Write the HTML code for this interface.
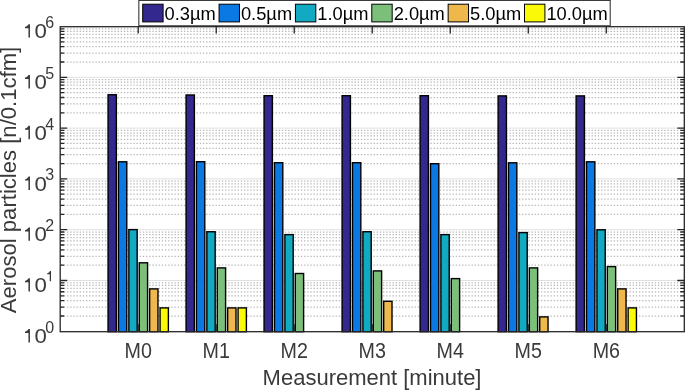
<!DOCTYPE html><html><head><meta charset="utf-8"><style>html,body{margin:0;padding:0;background:#fff;}svg{display:block;will-change:transform;}text{font-family:"Liberation Sans",sans-serif;}</style></head><body>
<svg width="685" height="390" viewBox="0 0 685 390">
<rect x="0" y="0" width="685" height="390" fill="#fff"/>
<path d="M60.20 316.01H684.30 M60.20 307.06H684.30 M60.20 300.72H684.30 M60.20 295.79H684.30 M60.20 291.77H684.30 M60.20 288.37H684.30 M60.20 285.42H684.30 M60.20 282.82H684.30 M60.20 265.21H684.30 M60.20 256.26H684.30 M60.20 249.92H684.30 M60.20 244.99H684.30 M60.20 240.97H684.30 M60.20 237.57H684.30 M60.20 234.62H684.30 M60.20 232.02H684.30 M60.20 214.41H684.30 M60.20 205.46H684.30 M60.20 199.12H684.30 M60.20 194.19H684.30 M60.20 190.17H684.30 M60.20 186.77H684.30 M60.20 183.82H684.30 M60.20 181.22H684.30 M60.20 163.61H684.30 M60.20 154.66H684.30 M60.20 148.32H684.30 M60.20 143.39H684.30 M60.20 139.37H684.30 M60.20 135.97H684.30 M60.20 133.02H684.30 M60.20 130.42H684.30 M60.20 112.81H684.30 M60.20 103.86H684.30 M60.20 97.52H684.30 M60.20 92.59H684.30 M60.20 88.57H684.30 M60.20 85.17H684.30 M60.20 82.22H684.30 M60.20 79.62H684.30 M60.20 62.01H684.30 M60.20 53.06H684.30 M60.20 46.72H684.30 M60.20 41.79H684.30 M60.20 37.77H684.30 M60.20 34.37H684.30 M60.20 31.42H684.30 M60.20 28.82H684.30" stroke="#b8b8b8" stroke-width="1.25" stroke-dasharray="1.35 1.81" stroke-dashoffset="-0.5" fill="none"/>
<path d="M60.20 280.50H684.30 M60.20 229.70H684.30 M60.20 178.90H684.30 M60.20 128.10H684.30 M60.20 77.30H684.30" stroke="#e0e0e0" stroke-width="1" fill="none"/>
<rect x="108.05" y="94.75" width="8.32" height="236.95" fill="#32288e" stroke="#000" stroke-width="1.4"/>
<rect x="118.45" y="161.80" width="8.32" height="169.90" fill="#0b79e4" stroke="#000" stroke-width="1.4"/>
<rect x="128.85" y="229.60" width="8.32" height="102.10" fill="#12a9c3" stroke="#000" stroke-width="1.4"/>
<rect x="139.25" y="262.80" width="8.32" height="68.90" fill="#7cbf7b" stroke="#000" stroke-width="1.4"/>
<rect x="149.65" y="288.90" width="8.32" height="42.80" fill="#eeb84c" stroke="#000" stroke-width="1.4"/>
<rect x="160.06" y="307.90" width="8.32" height="23.80" fill="#f9f908" stroke="#000" stroke-width="1.4"/>
<rect x="186.06" y="95.00" width="8.32" height="236.70" fill="#32288e" stroke="#000" stroke-width="1.4"/>
<rect x="196.46" y="161.70" width="8.32" height="170.00" fill="#0b79e4" stroke="#000" stroke-width="1.4"/>
<rect x="206.86" y="231.75" width="8.32" height="99.95" fill="#12a9c3" stroke="#000" stroke-width="1.4"/>
<rect x="217.27" y="267.90" width="8.32" height="63.80" fill="#7cbf7b" stroke="#000" stroke-width="1.4"/>
<rect x="227.67" y="307.90" width="8.32" height="23.80" fill="#eeb84c" stroke="#000" stroke-width="1.4"/>
<rect x="238.07" y="307.90" width="8.32" height="23.80" fill="#f9f908" stroke="#000" stroke-width="1.4"/>
<rect x="264.07" y="95.70" width="8.32" height="236.00" fill="#32288e" stroke="#000" stroke-width="1.4"/>
<rect x="274.47" y="162.70" width="8.32" height="169.00" fill="#0b79e4" stroke="#000" stroke-width="1.4"/>
<rect x="284.88" y="234.60" width="8.32" height="97.10" fill="#12a9c3" stroke="#000" stroke-width="1.4"/>
<rect x="295.28" y="273.50" width="8.32" height="58.20" fill="#7cbf7b" stroke="#000" stroke-width="1.4"/>
<rect x="342.09" y="95.70" width="8.32" height="236.00" fill="#32288e" stroke="#000" stroke-width="1.4"/>
<rect x="352.49" y="162.70" width="8.32" height="169.00" fill="#0b79e4" stroke="#000" stroke-width="1.4"/>
<rect x="362.89" y="231.75" width="8.32" height="99.95" fill="#12a9c3" stroke="#000" stroke-width="1.4"/>
<rect x="373.29" y="270.90" width="8.32" height="60.80" fill="#7cbf7b" stroke="#000" stroke-width="1.4"/>
<rect x="383.69" y="301.30" width="8.32" height="30.40" fill="#eeb84c" stroke="#000" stroke-width="1.4"/>
<rect x="420.10" y="95.70" width="8.32" height="236.00" fill="#32288e" stroke="#000" stroke-width="1.4"/>
<rect x="430.50" y="163.70" width="8.32" height="168.00" fill="#0b79e4" stroke="#000" stroke-width="1.4"/>
<rect x="440.90" y="234.60" width="8.32" height="97.10" fill="#12a9c3" stroke="#000" stroke-width="1.4"/>
<rect x="451.30" y="278.60" width="8.32" height="53.10" fill="#7cbf7b" stroke="#000" stroke-width="1.4"/>
<rect x="498.11" y="95.90" width="8.32" height="235.80" fill="#32288e" stroke="#000" stroke-width="1.4"/>
<rect x="508.51" y="162.80" width="8.32" height="168.90" fill="#0b79e4" stroke="#000" stroke-width="1.4"/>
<rect x="518.91" y="232.60" width="8.32" height="99.10" fill="#12a9c3" stroke="#000" stroke-width="1.4"/>
<rect x="529.32" y="267.90" width="8.32" height="63.80" fill="#7cbf7b" stroke="#000" stroke-width="1.4"/>
<rect x="539.72" y="316.90" width="8.32" height="14.80" fill="#eeb84c" stroke="#000" stroke-width="1.4"/>
<rect x="576.12" y="95.90" width="8.32" height="235.80" fill="#32288e" stroke="#000" stroke-width="1.4"/>
<rect x="586.52" y="161.80" width="8.32" height="169.90" fill="#0b79e4" stroke="#000" stroke-width="1.4"/>
<rect x="596.93" y="229.80" width="8.32" height="101.90" fill="#12a9c3" stroke="#000" stroke-width="1.4"/>
<rect x="607.33" y="266.60" width="8.32" height="65.10" fill="#7cbf7b" stroke="#000" stroke-width="1.4"/>
<rect x="617.73" y="288.90" width="8.32" height="42.80" fill="#eeb84c" stroke="#000" stroke-width="1.4"/>
<rect x="628.13" y="307.90" width="8.32" height="23.80" fill="#f9f908" stroke="#000" stroke-width="1.4"/>
<path d="M60.20 316.01h4.0M684.30 316.01h-4.0M60.20 307.06h4.0M684.30 307.06h-4.0M60.20 300.72h4.0M684.30 300.72h-4.0M60.20 295.79h4.0M684.30 295.79h-4.0M60.20 291.77h4.0M684.30 291.77h-4.0M60.20 288.37h4.0M684.30 288.37h-4.0M60.20 285.42h4.0M684.30 285.42h-4.0M60.20 282.82h4.0M684.30 282.82h-4.0M60.20 280.50h7.0M684.30 280.50h-7.0M60.20 265.21h4.0M684.30 265.21h-4.0M60.20 256.26h4.0M684.30 256.26h-4.0M60.20 249.92h4.0M684.30 249.92h-4.0M60.20 244.99h4.0M684.30 244.99h-4.0M60.20 240.97h4.0M684.30 240.97h-4.0M60.20 237.57h4.0M684.30 237.57h-4.0M60.20 234.62h4.0M684.30 234.62h-4.0M60.20 232.02h4.0M684.30 232.02h-4.0M60.20 229.70h7.0M684.30 229.70h-7.0M60.20 214.41h4.0M684.30 214.41h-4.0M60.20 205.46h4.0M684.30 205.46h-4.0M60.20 199.12h4.0M684.30 199.12h-4.0M60.20 194.19h4.0M684.30 194.19h-4.0M60.20 190.17h4.0M684.30 190.17h-4.0M60.20 186.77h4.0M684.30 186.77h-4.0M60.20 183.82h4.0M684.30 183.82h-4.0M60.20 181.22h4.0M684.30 181.22h-4.0M60.20 178.90h7.0M684.30 178.90h-7.0M60.20 163.61h4.0M684.30 163.61h-4.0M60.20 154.66h4.0M684.30 154.66h-4.0M60.20 148.32h4.0M684.30 148.32h-4.0M60.20 143.39h4.0M684.30 143.39h-4.0M60.20 139.37h4.0M684.30 139.37h-4.0M60.20 135.97h4.0M684.30 135.97h-4.0M60.20 133.02h4.0M684.30 133.02h-4.0M60.20 130.42h4.0M684.30 130.42h-4.0M60.20 128.10h7.0M684.30 128.10h-7.0M60.20 112.81h4.0M684.30 112.81h-4.0M60.20 103.86h4.0M684.30 103.86h-4.0M60.20 97.52h4.0M684.30 97.52h-4.0M60.20 92.59h4.0M684.30 92.59h-4.0M60.20 88.57h4.0M684.30 88.57h-4.0M60.20 85.17h4.0M684.30 85.17h-4.0M60.20 82.22h4.0M684.30 82.22h-4.0M60.20 79.62h4.0M684.30 79.62h-4.0M60.20 77.30h7.0M684.30 77.30h-7.0M60.20 62.01h4.0M684.30 62.01h-4.0M60.20 53.06h4.0M684.30 53.06h-4.0M60.20 46.72h4.0M684.30 46.72h-4.0M60.20 41.79h4.0M684.30 41.79h-4.0M60.20 37.77h4.0M684.30 37.77h-4.0M60.20 34.37h4.0M684.30 34.37h-4.0M60.20 31.42h4.0M684.30 31.42h-4.0M60.20 28.82h4.0M684.30 28.82h-4.0M138.21 331.30v-7.0M138.21 26.50v7.0M216.22 331.30v-7.0M216.22 26.50v7.0M294.24 331.30v-7.0M294.24 26.50v7.0M372.25 331.30v-7.0M372.25 26.50v7.0M450.26 331.30v-7.0M450.26 26.50v7.0M528.27 331.30v-7.0M528.27 26.50v7.0M606.29 331.30v-7.0M606.29 26.50v7.0" stroke="#262626" stroke-width="1.3" fill="none"/>
<rect x="60.20" y="26.70" width="624.10" height="305.00" fill="none" stroke="#262626" stroke-width="1.3"/>
<text x="0" y="0" transform="translate(46.8 342.90) scale(1.11 1)" font-size="20" fill="#3a3a3a" text-anchor="end">0</text>
<path d="M29.95 329.00 L29.95 342.40 L28.45 342.40 L28.45 333.00 L25.00 333.00 L25.00 331.80 L26.60 331.10 L27.90 330.00 L28.50 329.00Z" fill="#3a3a3a"/>
<text x="54.2" y="332.80" font-size="16" fill="#3a3a3a" text-anchor="end">0</text>
<text x="0" y="0" transform="translate(46.8 292.10) scale(1.11 1)" font-size="20" fill="#3a3a3a" text-anchor="end">0</text>
<path d="M29.95 278.20 L29.95 291.60 L28.45 291.60 L28.45 282.20 L25.00 282.20 L25.00 281.00 L26.60 280.30 L27.90 279.20 L28.50 278.20Z" fill="#3a3a3a"/>
<path d="M51.00 271.12 L51.00 281.30 L49.75 281.30 L49.75 274.16 L47.24 274.16 L47.24 273.24 L48.45 272.71 L49.44 271.88 L49.90 271.12Z" fill="#3a3a3a"/>
<text x="0" y="0" transform="translate(46.8 241.30) scale(1.11 1)" font-size="20" fill="#3a3a3a" text-anchor="end">0</text>
<path d="M29.95 227.40 L29.95 240.80 L28.45 240.80 L28.45 231.40 L25.00 231.40 L25.00 230.20 L26.60 229.50 L27.90 228.40 L28.50 227.40Z" fill="#3a3a3a"/>
<text x="54.2" y="231.20" font-size="16" fill="#3a3a3a" text-anchor="end">2</text>
<text x="0" y="0" transform="translate(46.8 190.50) scale(1.11 1)" font-size="20" fill="#3a3a3a" text-anchor="end">0</text>
<path d="M29.95 176.60 L29.95 190.00 L28.45 190.00 L28.45 180.60 L25.00 180.60 L25.00 179.40 L26.60 178.70 L27.90 177.60 L28.50 176.60Z" fill="#3a3a3a"/>
<text x="54.2" y="180.40" font-size="16" fill="#3a3a3a" text-anchor="end">3</text>
<text x="0" y="0" transform="translate(46.8 139.70) scale(1.11 1)" font-size="20" fill="#3a3a3a" text-anchor="end">0</text>
<path d="M29.95 125.80 L29.95 139.20 L28.45 139.20 L28.45 129.80 L25.00 129.80 L25.00 128.60 L26.60 127.90 L27.90 126.80 L28.50 125.80Z" fill="#3a3a3a"/>
<text x="54.2" y="129.60" font-size="16" fill="#3a3a3a" text-anchor="end">4</text>
<text x="0" y="0" transform="translate(46.8 88.90) scale(1.11 1)" font-size="20" fill="#3a3a3a" text-anchor="end">0</text>
<path d="M29.95 75.00 L29.95 88.40 L28.45 88.40 L28.45 79.00 L25.00 79.00 L25.00 77.80 L26.60 77.10 L27.90 76.00 L28.50 75.00Z" fill="#3a3a3a"/>
<text x="54.2" y="78.80" font-size="16" fill="#3a3a3a" text-anchor="end">5</text>
<text x="0" y="0" transform="translate(46.8 38.10) scale(1.11 1)" font-size="20" fill="#3a3a3a" text-anchor="end">0</text>
<path d="M29.95 24.20 L29.95 37.60 L28.45 37.60 L28.45 28.20 L25.00 28.20 L25.00 27.00 L26.60 26.30 L27.90 25.20 L28.50 24.20Z" fill="#3a3a3a"/>
<text x="54.2" y="28.00" font-size="16" fill="#3a3a3a" text-anchor="end">6</text>
<text transform="translate(138.21 357.5) scale(0.915 1)" x="0" y="0" font-size="21.5" fill="#3a3a3a" text-anchor="middle">M0</text>
<text transform="translate(216.22 357.5) scale(0.915 1)" x="0" y="0" font-size="21.5" fill="#3a3a3a" text-anchor="middle">M1</text>
<text transform="translate(294.24 357.5) scale(0.915 1)" x="0" y="0" font-size="21.5" fill="#3a3a3a" text-anchor="middle">M2</text>
<text transform="translate(372.25 357.5) scale(0.915 1)" x="0" y="0" font-size="21.5" fill="#3a3a3a" text-anchor="middle">M3</text>
<text transform="translate(450.26 357.5) scale(0.915 1)" x="0" y="0" font-size="21.5" fill="#3a3a3a" text-anchor="middle">M4</text>
<text transform="translate(528.27 357.5) scale(0.915 1)" x="0" y="0" font-size="21.5" fill="#3a3a3a" text-anchor="middle">M5</text>
<text transform="translate(606.29 357.5) scale(0.915 1)" x="0" y="0" font-size="21.5" fill="#3a3a3a" text-anchor="middle">M6</text>
<text x="372.05" y="385.2" font-size="22" fill="#3a3a3a" text-anchor="middle">Measurement [minute]</text>
<text transform="translate(16.4 180.0) rotate(-90)" x="0" y="0" font-size="22.1" fill="#3a3a3a" text-anchor="middle">Aerosol particles [n/0.1cfm]</text>
<rect x="138.85" y="0.4" width="471.35" height="25.40" fill="#fff" stroke="#262626" stroke-width="1"/>
<rect x="142.70" y="4.2" width="20.4" height="17.7" fill="#32288e" stroke="#000" stroke-width="1"/>
<text x="164.60" y="20.3" font-size="18.3" fill="#000">0.3µm</text>
<rect x="219.06" y="4.2" width="20.4" height="17.7" fill="#0b79e4" stroke="#000" stroke-width="1"/>
<text x="240.96" y="20.3" font-size="18.3" fill="#000">0.5µm</text>
<rect x="295.42" y="4.2" width="20.4" height="17.7" fill="#12a9c3" stroke="#000" stroke-width="1"/>
<text x="317.32" y="20.3" font-size="18.3" fill="#000">1.0µm</text>
<rect x="371.78" y="4.2" width="20.4" height="17.7" fill="#7cbf7b" stroke="#000" stroke-width="1"/>
<text x="393.68" y="20.3" font-size="18.3" fill="#000">2.0µm</text>
<rect x="448.14" y="4.2" width="20.4" height="17.7" fill="#eeb84c" stroke="#000" stroke-width="1"/>
<text x="470.04" y="20.3" font-size="18.3" fill="#000">5.0µm</text>
<rect x="524.50" y="4.2" width="20.4" height="17.7" fill="#f9f908" stroke="#000" stroke-width="1"/>
<text x="546.40" y="20.3" font-size="18.3" fill="#000">10.0µm</text>
</svg></body></html>
